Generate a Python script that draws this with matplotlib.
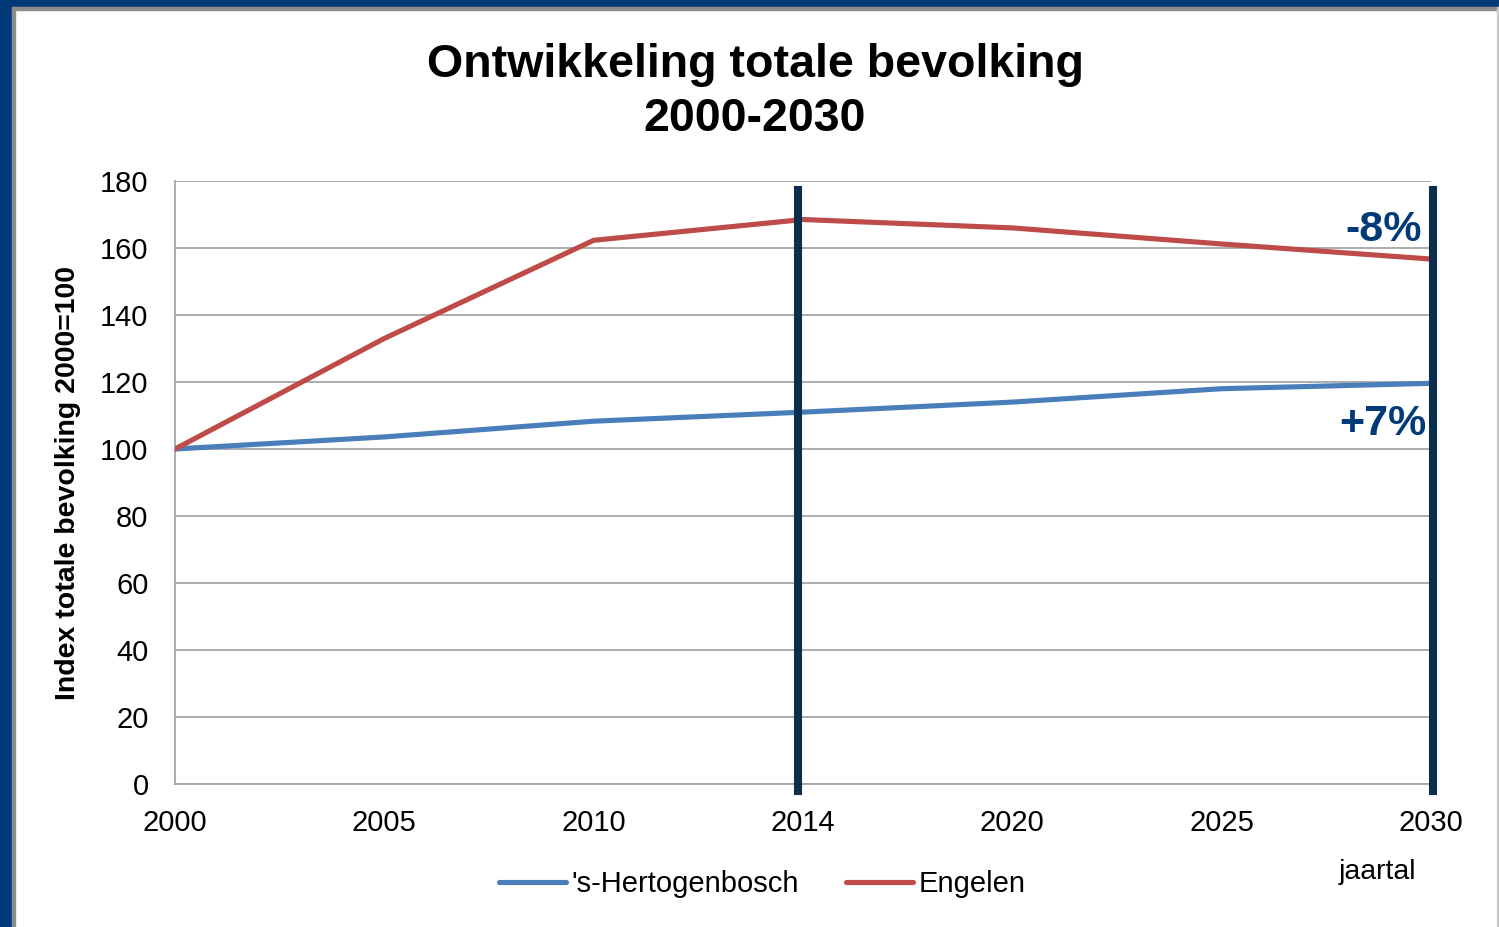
import matplotlib.pyplot as plt
from matplotlib.patches import Rectangle

plt.rcParams['font.family'] = ['Liberation Sans', 'DejaVu Sans']

# jaren (categorieen, gelijk verdeeld)
jaren = ['2000', '2005', '2010', '2014', '2020', '2025', '2030']
# index totale bevolking, 2000=100
hertogenbosch = [100, 103.6, 108.3, 111.0, 114.0, 118.0, 119.6]
engelen = [100, 133.0, 162.3, 168.5, 166.0, 161.2, 156.7]
# markeringen (handmatig getekende lijnen, iets verschoven t.o.v. de categorie)
markeer = ['2014', '2030']
verschuiving = [-0.024, 0.01]
labels_pct = ['-8%', '+7%']

W, H = 1499, 927
fig = plt.figure(figsize=(W / 100, H / 100), dpi=100)
fig.patch.set_facecolor('white')

# kader van de dia
navy = '#003A78'
fig.patches.append(Rectangle((0, 0), 12 / W, 1, transform=fig.transFigure, color=navy, zorder=0))
fig.patches.append(Rectangle((0, 1 - 7 / H), 1, 7 / H, transform=fig.transFigure, color=navy, zorder=0))
fig.patches.append(Rectangle((12 / W, 0), 3 / W, 1 - 7 / H, transform=fig.transFigure, color='#8c8c8c', zorder=0))
fig.patches.append(Rectangle((12 / W, 1 - 10 / H), 1 - 12 / W, 3 / H, transform=fig.transFigure, color='#8c8c8c', zorder=0))
fig.patches.append(Rectangle((1 - 2 / W, 0), 2 / W, 1 - 7 / H, transform=fig.transFigure, color='#c8c8c8', zorder=0))

ax = fig.add_axes([175 / W, 143 / H, (1431 - 175) / W, (784 - 181) / H])
x = list(range(len(jaren)))

ax.plot(x, hertogenbosch, color='#4A7EBB', lw=3.7, label="'s-Hertogenbosch", solid_capstyle='round', zorder=3)
ax.plot(x, engelen, color='#BE4B48', lw=3.7, label='Engelen', solid_capstyle='round', zorder=3)

for m, d in zip(markeer, verschuiving):
    ax.axvline(jaren.index(m) + d, ymin=-0.011, ymax=0.985, color='#0B2E4F', lw=5.8, clip_on=False, zorder=4)

ax.set_xlim(0, len(jaren) - 1)
ax.set_ylim(0, 180)
ax.set_yticks(range(0, 181, 20))
ax.set_xticks(x)
ax.set_xticklabels(jaren)
ax.tick_params(axis='both', length=0, labelsize=21, colors='black')
ax.tick_params(axis='y', pad=19)
ax.tick_params(axis='x', pad=18)
ax.grid(axis='y', color='#a6a6a6', lw=1.3)
ax.set_axisbelow(True)
for s in ['top', 'right']:
    ax.spines[s].set_visible(False)
for s in ['left', 'bottom']:
    ax.spines[s].set_color('#a6a6a6')
    ax.spines[s].set_linewidth(1.3)

ax.set_ylabel('Index totale bevolking 2000=100', fontsize=20.5, fontweight='bold', labelpad=14)

fig.text(755 / W, 1 - 92 / H, 'Ontwikkeling totale bevolking\n2000-2030', ha='center', va='center',
         fontsize=33.5, fontweight='bold', linespacing=1.3)

ax.text(6 - 0.045, 165.5, labels_pct[0], ha='right', va='center', fontsize=31, fontweight='bold', color=navy)
ax.text(6 - 0.02, 107.5, labels_pct[1], ha='right', va='center', fontsize=31, fontweight='bold', color=navy)

fig.text(1377 / W, 1 - 872 / H, 'jaartal', ha='center', va='center', fontsize=20.5)

ax.legend(loc='center', bbox_to_anchor=(762 / W, 1 - 884 / H), bbox_transform=fig.transFigure,
          ncol=2, frameon=False, fontsize=21, handlelength=2.3, handletextpad=0.2, columnspacing=1.6)

fig.savefig('out.png', dpi=100)
